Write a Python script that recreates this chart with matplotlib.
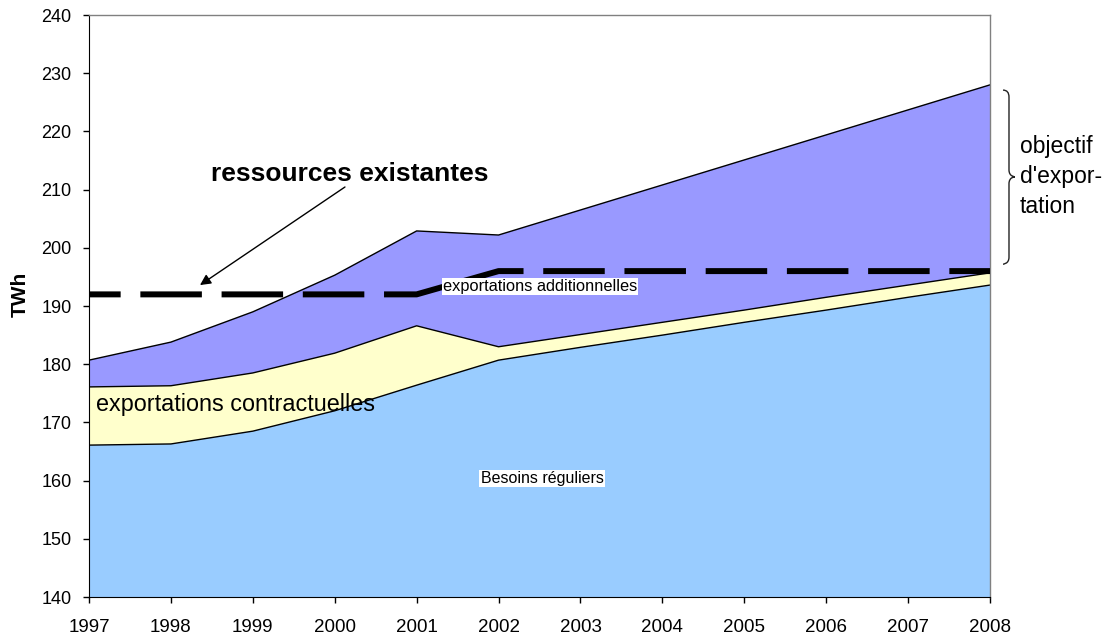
import matplotlib.pyplot as plt
from matplotlib.patches import FancyArrowPatch, PathPatch
from matplotlib.path import Path

plt.rcParams['font.family'] = ['Liberation Sans', 'DejaVu Sans']

years = [1997, 1998, 1999, 2000, 2001, 2002, 2003, 2004, 2005, 2006, 2007, 2008]
besoins = [166.1, 166.3, 168.5, 172.0, 176.4, 180.7, 182.9, 185.0, 187.2, 189.3, 191.5, 193.6]
contract_top = [176.1, 176.3, 178.5, 181.9, 186.6, 183.0, 185.1, 187.2, 189.3, 191.5, 193.6, 195.7]
total = [180.7, 183.8, 189.0, 195.3, 202.9, 202.2, 206.5, 210.8, 215.1, 219.4, 223.7, 228.0]
ressources = [192, 192, 192, 192, 192, 196, 196, 196, 196, 196, 196, 196]

contract = [t - b for t, b in zip(contract_top, besoins)]
additional = [t - c for t, c in zip(total, contract_top)]

fig = plt.figure(figsize=(11.07, 6.39), dpi=100)
ax = fig.add_axes([0.0804, 0.0657, 0.8139, 0.9108])

ax.stackplot(years, besoins, contract, additional,
             colors=['#99ccff', '#ffffcc', '#9999ff'], baseline='zero')
ax.plot(years, besoins, color='black', lw=1)
ax.plot(years, contract_top, color='black', lw=1)
ax.plot(years, total, color='black', lw=1)

# ressources existantes (dashed)
ax.plot(years, ressources, color='black', lw=4.3, linestyle=(5, (10.3, 3.3)),
        solid_capstyle='butt', zorder=5, clip_on=False)

ax.set_xlim(1997, 2008)
ax.set_ylim(140, 240)
ax.set_xticks(years)
ax.set_yticks(range(140, 241, 10))
ax.tick_params(axis='both', direction='out', length=4.5, width=1)
ax.tick_params(axis='x', labelsize=13.5, pad=11)
ax.tick_params(axis='y', labelsize=13, pad=8)
for s in ['top', 'right']:
    ax.spines[s].set_color('#808080')
    ax.spines[s].set_linewidth(1)
ax.set_ylabel('TWh', fontsize=15, fontweight='bold')
ax.yaxis.set_label_coords(-0.066, 0.52)

ax.text(1998.49, 211.5, 'ressources existantes', fontsize=19, fontweight='bold',
        ha='left', va='baseline')
ax.add_patch(FancyArrowPatch((2000.125, 210.45), (1998.355, 193.6),
                             arrowstyle='-|>', mutation_scale=16, color='black', lw=1,
                             shrinkA=0, shrinkB=0, zorder=6))
ax.text(1997.085, 172.0, 'exportations contractuelles', fontsize=16.8, ha='left', va='baseline')
ax.text(2001.32, 192.6, 'exportations additionnelles', fontsize=11.8, ha='left', va='baseline',
        bbox=dict(facecolor='white', edgecolor='none', pad=0.8), zorder=7)
ax.text(2001.78, 159.6, 'Besoins réguliers', fontsize=11.5, ha='left', va='baseline',
        bbox=dict(facecolor='white', edgecolor='none', pad=0.8))

# accolade "objectif d'exportation"
x0, x1, x2 = 2008.159, 2008.232, 2008.305
top, mid, bot = 227.1, 212.2, 197.2
verts = [(x0, top), (x1, top), (x1, top - 1.2),
         (x1, mid + 1.2),
         (x1, mid), (x2, mid), (x2, mid),
         (x2, mid), (x1, mid), (x1, mid - 1.2),
         (x1, bot + 1.2),
         (x1, bot), (x0, bot), (x0, bot)]
codes = [Path.MOVETO, Path.CURVE3, Path.CURVE3,
         Path.LINETO,
         Path.CURVE4, Path.CURVE4, Path.CURVE4,
         Path.CURVE4, Path.CURVE4, Path.CURVE4,
         Path.LINETO,
         Path.CURVE4, Path.CURVE4, Path.CURVE4]
ax.add_patch(PathPatch(Path(verts, codes), facecolor='none', edgecolor='#222222',
                       lw=1, clip_on=False))
for txt, yv in [('objectif', 216.3), ("d'expor-", 211.1), ('tation', 206.0)]:
    ax.text(2008.367, yv, txt, fontsize=16.5, ha='left', va='baseline', clip_on=False)

fig.savefig('out.png', dpi=100)
